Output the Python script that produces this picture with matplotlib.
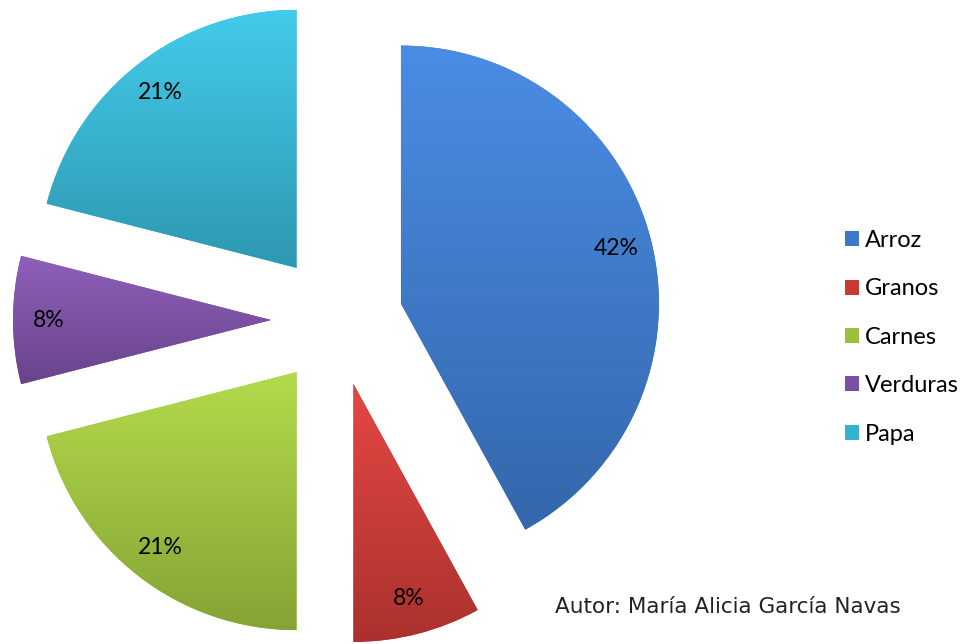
import matplotlib
matplotlib.use("Agg")
import matplotlib.pyplot as plt
import numpy as np
from matplotlib.patches import Patch
from matplotlib.colors import to_rgb

categories = ["Arroz", "Granos", "Carnes", "Verduras", "Papa"]
values = [42, 8, 21, 8, 21]
colors = ["#3d79c9", "#c93a36", "#9cc03e", "#7b50a3", "#36b2cf"]
author = "Autor: María Alicia García Navas"

W, H = 974, 644
fig = plt.figure(figsize=(W / 100, H / 100), dpi=100)
ax = fig.add_axes([0, 0, 1, 1])

R = 258
explode = [66] * len(values)
wedges, texts, autotexts = ax.pie(
    values, colors=colors, startangle=90, counterclock=False,
    center=(337, H - 320), radius=R, explode=explode,
    autopct="%1.0f%%", pctdistance=0.86, frame=True,
    textprops=dict(fontsize=16.5, family="Lato", color="black"),
    wedgeprops=dict(linewidth=0),
)
ax.set_xlim(0, W)
ax.set_ylim(0, H)
ax.set_aspect("equal")
ax.axis("off")

# gradient shading per wedge
for w, c in zip(wedges, colors):
    ext = w.get_path().get_extents()
    base = np.array(to_rgb(c))
    n = 256
    t = np.linspace(0, 1, n)[:, None]
    light = np.clip(base * 1.10 + 0.03, 0, 1)
    dark = base * 0.85
    grad = light[None, :] * (1 - t) + dark[None, :] * t
    img = np.repeat(grad[:, None, :], 2, axis=1)
    im = ax.imshow(img, extent=(ext.x0, ext.x1, ext.y0, ext.y1), origin="upper",
                   aspect="auto", zorder=w.get_zorder() + 0.1, interpolation="bilinear")
    im.set_clip_path(w)
for t in autotexts:
    t.set_zorder(5)
ax.set_xlim(0, W)
ax.set_ylim(0, H)

handles = [Patch(facecolor=c, edgecolor="none") for c in colors]
leg = ax.legend(handles, categories, loc="upper left", bbox_to_anchor=(845 / W, 1 - 230 / H),
                frameon=False, prop=dict(family="Lato", size=17),
                handlelength=0.6, handleheight=0.6, handletextpad=0.25,
                labelspacing=1.16, borderaxespad=0, borderpad=0)

ax.text(555, H - 607, author, fontsize=15.5, family="DejaVu Sans", color="#222222",
        va="center", ha="left")

fig.savefig("out.png", dpi=100)
